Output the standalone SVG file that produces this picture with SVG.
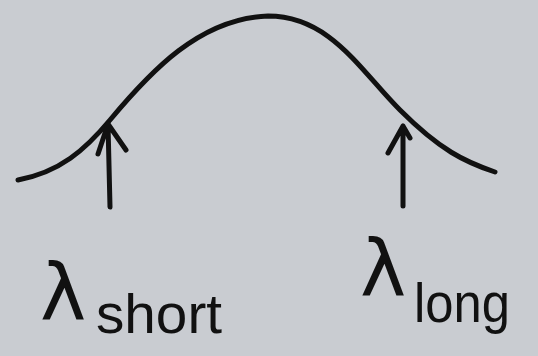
<svg xmlns="http://www.w3.org/2000/svg" width="538" height="356" viewBox="0 0 538 356">
<style>
.ink{fill:none;stroke:#111;stroke-width:5;stroke-linecap:round;stroke-linejoin:round}
.lam{font-family:"DejaVu Sans",sans-serif;font-size:78px;fill:#111}
.sub{font-family:"Liberation Sans",sans-serif;font-size:56px;fill:#111}
</style>
<rect width="538" height="356" fill="#c9ccd1"/>
<g id="curve">
<path class="ink" d="M18,180 C60,172 85,150 110,120 C150,72 200,18 268,16 C330,16 360,70 400,110 C440,150 465,162 495,172"/>
</g>
<g id="connectors">
<path class="ink" d="M110,207 L108,124 M98,154 L108,124 L126,150"/>
<path class="ink" d="M403,206 L403,126 M388,153 L403,126 L410,138"/>
</g>
<g id="label-short">
<text class="lam" x="40" y="320">λ</text>
<text class="sub" x="96" y="333" textLength="126" lengthAdjust="spacingAndGlyphs">short</text>
</g>
<g id="label-long">
<text class="lam" x="360" y="296">λ</text>
<text class="sub" x="414" y="322" textLength="96" lengthAdjust="spacingAndGlyphs">long</text>
</g>
</svg>
